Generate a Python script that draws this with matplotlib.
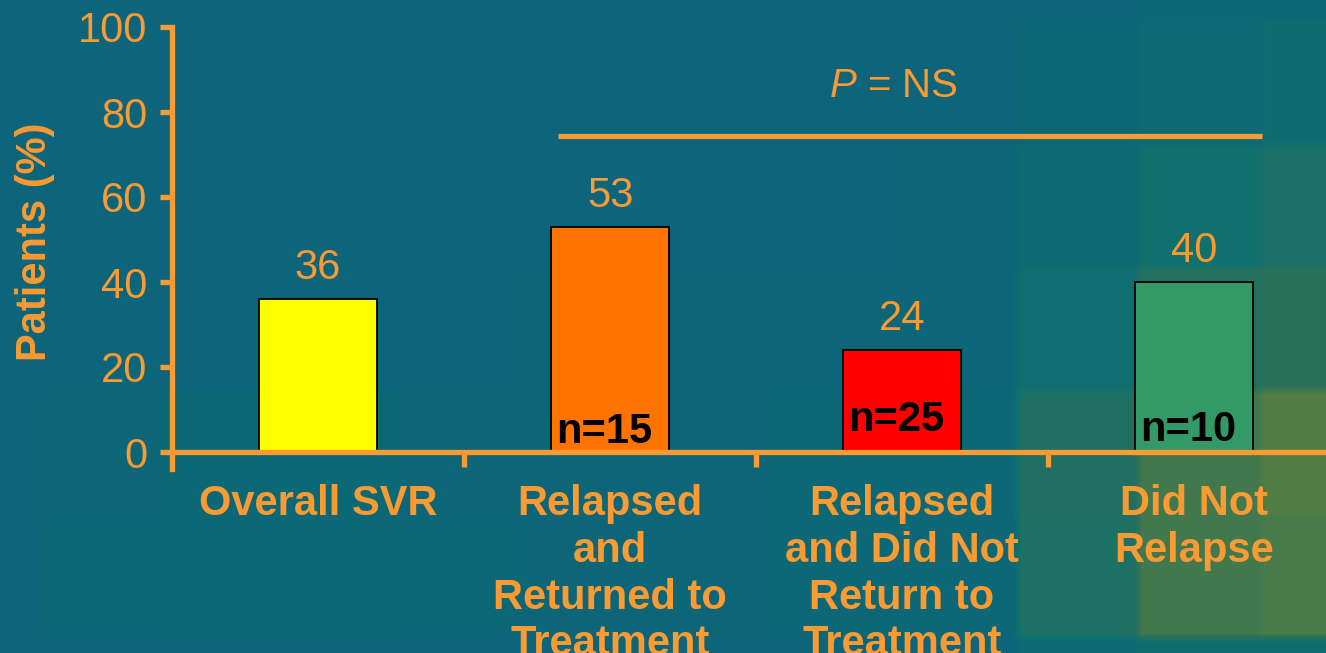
import numpy as np
import matplotlib
matplotlib.use('Agg')
import matplotlib.pyplot as plt
from matplotlib.ticker import FixedLocator

plt.rcParams['font.family'] = ['Liberation Sans', 'DejaVu Sans']
plt.rcParams['mathtext.fontset'] = 'custom'
plt.rcParams['mathtext.it'] = 'Liberation Sans:italic'
plt.rcParams['mathtext.rm'] = 'Liberation Sans'

# data
categories = ['Overall SVR', 'Relapsed\nand\nReturned to\nTreatment',
              'Relapsed\nand Did Not\nReturn to\nTreatment', 'Did Not\nRelapse']
patients_pct = [36, 53, 24, 40]
n_labels = ['', 'n=15', 'n=25', 'n=10']
bar_colors = ['#FFFF00', '#FF7300', '#FF0000', '#339966']
yticks = [0, 20, 40, 60, 80, 100]
p_text = '$P$ = NS'

ORANGE = '#F99A33'
W, H = 1326, 653

# patchy teal/olive backdrop
row_edges = [0, 20, 145, 267, 390, 515, 638, 653]
col_edges = [0, 40, 160, 280, 400, 520, 645, 770, 895, 1017, 1138, 1262, 1326]
bg_tone = np.array([
    [0, 0, 0, 0, 0, 0, 0, 0, 0, 0, 0.2, 0.3],
    [0, 0, 0, 0, 0, 0, 0, 0, 0, 0.2, 0.5, 0.7],
    [0, 0, 0, 0, 0, 0, 0, 0, 0.1, 0.5, 1.0, 1.4],
    [0, 0, 0, 0, 0, 0.1, 0.1, 0.1, 0.1, 0.9, 1.8, 2.0],
    [0, 0.1, 0.3, 0.3, 0.1, 0.1, 0.1, 0.2, 0.2, 1.6, 2.6, 3.0],
    [0, 0.2, 0.3, 0.3, 0.2, 0.1, 0.1, 0.2, 0.2, 1.5, 2.6, 2.8],
    [0, 0, 0, 0, 0, 0, 0, 0, 0, 0.5, 0.8, 0.8],
])
palette = np.array([[12, 101, 122], [16, 112, 110], [42, 112, 90], [82, 126, 70]]) / 255.0

tone = np.zeros((H, W))
for i in range(len(row_edges) - 1):
    for j in range(len(col_edges) - 1):
        tone[row_edges[i]:row_edges[i + 1], col_edges[j]:col_edges[j + 1]] = bg_tone[i, j]
k = np.ones(9) / 9.0
tone = np.apply_along_axis(lambda r: np.convolve(r, k, mode='same'), 1, np.pad(tone, ((0, 0), (4, 4)), mode='edge'))[:, 4:-4]
tone = np.apply_along_axis(lambda c: np.convolve(c, k, mode='same'), 0, np.pad(tone, ((4, 4), (0, 0)), mode='edge'))[4:-4, :]
lo = np.clip(np.floor(tone).astype(int), 0, 2)
fr = (tone - lo)[..., None]
bg = palette[lo] * (1 - fr) + palette[lo + 1] * fr

fig = plt.figure(figsize=(W / 100, H / 100), dpi=100)
bgax = fig.add_axes([0, 0, 1, 1])
bgax.imshow(bg, aspect='auto', interpolation='bilinear')
bgax.axis('off')

ax = fig.add_axes([172 / W, 1 - 469 / H, 1 - 172 / W, (469 - 27) / H])
ax.patch.set_alpha(0)
x = np.arange(len(categories))
ax.bar(x, patients_pct, width=0.404, color=bar_colors, edgecolor='black', linewidth=1.3, zorder=2)

ax.set_xlim(-0.5, 3.452)
ax.set_ylim(-4.0, 100)

for s in ['top', 'right']:
    ax.spines[s].set_visible(False)
for s in ['left', 'bottom']:
    ax.spines[s].set_color(ORANGE)
    ax.spines[s].set_linewidth(3.8)
    ax.spines[s].set_zorder(3)
ax.spines['bottom'].set_position(('data', 0))
ax.spines['left'].set_bounds(-4.0, 100)

ax.set_yticks(yticks)
ax.tick_params(axis='y', colors=ORANGE, labelsize=30, length=9, width=3.8, pad=8.5, direction='out')
ax.set_xticks(x)
ax.set_xticklabels(categories, fontsize=30, fontweight='bold', color=ORANGE, linespacing=1.22)
ax.tick_params(axis='x', which='major', length=0, pad=23)
ax.xaxis.set_minor_locator(FixedLocator(x[1:] - 0.5))
ax.tick_params(axis='x', which='minor', length=11, width=3.8, color=ORANGE, direction='out')

for xi, v in zip(x, patients_pct):
    ax.text(xi, v + 4.6, str(v), ha='center', va='baseline', fontsize=30, color=ORANGE)

n_y = [0, 2.1, 5.0, 2.6]
for xi, lab, yy in zip(x, n_labels, n_y):
    if lab:
        ax.text(xi - 0.02, yy, lab, ha='center', va='baseline', fontsize=30, fontweight='bold', color='black', zorder=4)

ax.plot([0.822, 3.233], [74.3, 74.3], color=ORANGE, linewidth=3.8, solid_capstyle='butt', clip_on=False)
ax.text(1.97, 83.5, p_text, ha='center', va='baseline', fontsize=29, color=ORANGE)

fig.text(35 / W, 1 - 242 / H, 'Patients (%)', rotation=90, ha='center', va='center',
         fontsize=30, fontweight='bold', color=ORANGE)

fig.savefig('out.png', dpi=100)
